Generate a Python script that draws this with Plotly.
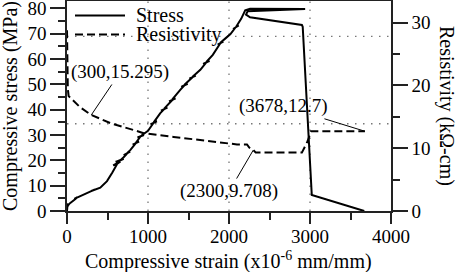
import plotly.graph_objects as go

# ---- data ----
stress_strain = [0, 8, 0, 20, 41, 100,
                 130, 90, 170, 130, 200,
                 300, 260, 340, 300, 411, 494, 560,
                 617, 570, 660, 617, 650, 600, 700, 660, 699,
                 740, 700, 780, 740, 781,
                 850, 810, 890, 850, 905, 870, 950, 920, 1000,
                 1070, 1030, 1110, 1070, 1152,
                 1200, 1160, 1240, 1200, 1300, 1260, 1340, 1300, 1398,
                 1450, 1410, 1490, 1450, 1550, 1510, 1590, 1550, 1646,
                 1720, 1680, 1760, 1720, 1800,
                 1893, 1860, 1930, 1893, 1960, 2018,
                 2080, 2050, 2120, 2090, 2150, 2180,
                 2200, 2260, 2940, 2230, 2210, 2260, 2900, 2910,
                 3022, 3670]
stress_val = [0, 3.0, 1.5, 2.5, 3.2, 4.6,
              5.5, 4.8, 6.0, 5.4, 6.3,
              7.8, 7.4, 8.4, 7.9, 9.2, 11.8, 15.2,
              18.4, 18.0, 19.6, 18.6, 19.8, 19.4, 20.6, 20.0, 21.2,
              22.6, 22.0, 23.4, 22.8, 24.0,
              26.8, 26.2, 27.4, 26.9, 29.3, 29.0, 30.0, 29.8, 31.6,
              34.8, 34.2, 35.4, 35.0, 38.6,
              40.2, 39.6, 40.8, 40.4, 43.8, 43.2, 44.4, 44.0, 47.8,
              49.6, 49.0, 50.2, 49.8, 52.8, 52.2, 53.4, 53.0, 55.7,
              58.6, 58.0, 59.2, 58.8, 61.6,
              66.2, 65.6, 66.8, 66.4, 68.2, 69.8,
              72.4, 71.8, 73.2, 72.8, 75.8, 77.5,
              79.2, 79.8, 79.7, 78.8, 77.5, 76.4, 73.4, 72.7,
              6.3, 0.0]

res_strain = [0, 2, 5, 10, 20, 82, 164, 300, 535, 822, 946, 1316, 1728, 1893,
              2099, 2222, 2250, 2300, 2330, 2900, 2970, 3012, 3678]
res_val = [28.8, 24.0, 21.0, 19.5, 18.3, 17.5, 16.5, 15.295, 14.0, 12.9, 12.4, 11.8,
           11.2, 10.9, 10.6, 10.6, 10.1, 9.708, 9.3, 9.3, 11.1, 12.7, 12.7]

x_ticks = [0, 1000, 2000, 3000, 4000]
stress_ticks = [0, 10, 20, 30, 40, 50, 60, 70, 80]
res_ticks = [0, 10, 20, 30]
res_grid = [13.9, 27.8]

callouts = [  # (strain, resistivity, label, ax, ay)
    (300, 15.295, "(300,15.295)", 29, -43),
    (2300, 9.708, "(2300,9.708)", -24, 41),
    (3678, 12.7, "(3678,12.7)", -81, -25),
]

FONT = "Liberation Serif"
GRID = dict(color="#777", width=1.3, dash="1.5px,6.5px")

fig = go.Figure()
fig.add_trace(go.Scatter(x=stress_strain, y=stress_val, mode="lines", name="Stress",
                         line=dict(color="black", width=2), showlegend=False))
fig.add_trace(go.Scatter(x=res_strain, y=res_val, mode="lines", name="Resistivity",
                         line=dict(color="black", width=2, dash="8px,4px"),
                         yaxis="y2", showlegend=False))

# dotted grid lines
for g in res_grid:
    fig.add_shape(type="line", xref="paper", x0=0, x1=1, yref="y2", y0=g, y1=g,
                  line=GRID, layer="below")
for g in x_ticks[1:-1]:
    fig.add_shape(type="line", xref="x", x0=g, x1=g, yref="paper", y0=0, y1=1,
                  line=GRID, layer="below")


def px2paper(px, py):
    return (px - 67) / 324, (211 - py) / 210


# manual legend
for (label, dash, py) in [("Stress", "solid", 15.5), ("Resistivity", "8px,4px", 34.5)]:
    x0, y0 = px2paper(75, py)
    x1, _ = px2paper(125, py)
    fig.add_shape(type="line", xref="paper", yref="paper", x0=x0, x1=x1, y0=y0, y1=y0,
                  line=dict(color="black", width=2, dash=dash))
    tx, _ = px2paper(134, py)
    fig.add_annotation(xref="paper", yref="paper", x=tx, y=y0, text=label, showarrow=False,
                       xanchor="left", yanchor="middle",
                       font=dict(size=20, color="black", family=FONT))

for (sx, rv, lab, ax, ay) in callouts:
    fig.add_annotation(x=sx, y=rv, xref="x", yref="y2", text=lab, showarrow=True,
                       arrowhead=0, arrowwidth=1, arrowcolor="black", ax=ax, ay=ay,
                       font=dict(size=19, color="black", family=FONT))

# axis titles
tx, ty = px2paper(228, 260)
fig.add_annotation(xref="paper", yref="paper", x=tx, y=ty, showarrow=False,
                   xanchor="center", yanchor="middle",
                   text="Compressive strain (x10<sup>-6</sup> mm/mm)",
                   font=dict(size=20, color="black", family=FONT))
tx, ty = px2paper(10, 106)
fig.add_annotation(xref="paper", yref="paper", x=tx, y=ty, showarrow=False, textangle=-90,
                   xanchor="center", yanchor="middle",
                   text="Compressive stress (MPa)", font=dict(size=20, color="black", family=FONT))
tx, ty = px2paper(447, 106)
fig.add_annotation(xref="paper", yref="paper", x=tx, y=ty, showarrow=False, textangle=90,
                   xanchor="center", yanchor="middle",
                   text="Resistivity (kΩ-cm)", font=dict(size=20, color="black", family=FONT))

axis_common = dict(showline=True, linecolor="#222", linewidth=1.5, ticks="outside",
                   tickcolor="#222", tickwidth=1.5, zeroline=False, automargin=False,
                   showgrid=False, ticklabeloverflow="allow",
                   tickfont=dict(size=19, color="black", family=FONT))
minor_common = dict(ticks="outside", ticklen=7, tickcolor="#222", tickwidth=1.5, showgrid=False)

fig.update_layout(
    width=457, height=272,
    margin=dict(l=67, r=66, t=1, b=61, autoexpand=False),
    paper_bgcolor="white", plot_bgcolor="white",
    font=dict(family=FONT, color="black"),
    xaxis=dict(range=[0, 4000], tickvals=x_ticks, ticklen=11, mirror=True,
               ticklabelstandoff=-4,
               minor=dict(dtick=500, **minor_common), **axis_common),
    yaxis=dict(range=[0, 82.85], tickvals=stress_ticks, ticklen=15,
               minor=dict(dtick=5, **minor_common), **axis_common),
    yaxis2=dict(range=[0, 33.45], tickvals=res_ticks, ticklen=15, overlaying="y", side="right",
                minor=dict(dtick=5, **minor_common), **axis_common),
    showlegend=False,
)

fig.write_html("out.html", config={"displayModeBar": False},
               post_script="document.body.style.margin='0';")
